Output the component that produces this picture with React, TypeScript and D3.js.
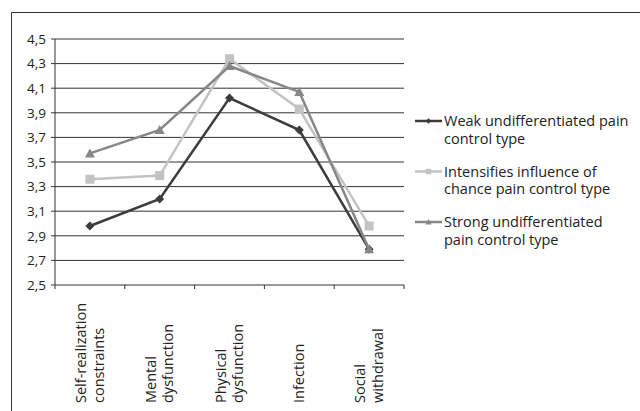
import React from "react";
import * as d3 from "d3";

const categories = [
  ["Self-realization", "constraints"],
  ["Mental", "dysfunction"],
  ["Physical", "dysfunction"],
  ["Infection"],
  ["Social", "withdrawal"],
];
const weak = [2.98, 3.2, 4.02, 3.76, 2.79];
const intensifies = [3.36, 3.39, 4.34, 3.93, 2.98];
const strong = [3.57, 3.76, 4.28, 4.07, 2.79];
const yTicks = [2.5, 2.7, 2.9, 3.1, 3.3, 3.5, 3.7, 3.9, 4.1, 4.3, 4.5];

const series = [
  { name: ["Weak undifferentiated pain", "control type"], values: weak, color: "#3c3c3c", marker: "diamond" },
  { name: ["Intensifies influence of", "chance pain control type"], values: intensifies, color: "#c3c3c3", marker: "square" },
  { name: ["Strong undifferentiated", "pain control type"], values: strong, color: "#878787", marker: "triangle" },
];

const W = 640, H = 411;
const left = 55, right = 404, top = 39, bottom = 285;
const FONT = "'Open Sans', 'Noto Sans', sans-serif";

function Marker({ type, x, y, color, scale = 1 }: any) {
  if (type === "diamond") {
    const s = 4.5 * scale;
    return <path d={`M${x},${y - s}L${x + s},${y}L${x},${y + s}L${x - s},${y}Z`} fill={color} />;
  }
  if (type === "square") {
    const s = 4.5 * scale;
    return <rect x={x - s} y={y - s} width={2 * s} height={2 * s} fill={color} />;
  }
  const s = 5 * scale;
  return <path d={`M${x},${y - s}L${x + s},${y + s * 0.8}L${x - s},${y + s * 0.8}Z`} fill={color} />;
}

export default function App() {
  const x = d3.scaleBand<number>().domain(d3.range(categories.length)).range([left, right]);
  const y = d3.scaleLinear().domain([2.5, 4.5]).range([bottom, top]);
  const line = d3
    .line<number>()
    .x((_, i) => (x(i) as number) + x.bandwidth() / 2)
    .y((v) => y(v));
  const ticksX = d3.range(categories.length + 1).map((i) => left + i * x.bandwidth());
  const legendY = [121, 171.5, 222];
  const fs = 14.5;

  return (
    <svg width={W} height={H} style={{ display: "block", position: "absolute", left: 0, top: 0 }} fontFamily={FONT}>
      <rect x={0} y={0} width={W} height={H} fill="#fff" />
      <path d={`M11.5,${H}V12.5H${W}`} fill="none" stroke="#333" strokeWidth={1} />
      {yTicks.map((t) => (
        <g key={t}>
          <line x1={left} x2={right} y1={y(t)} y2={y(t)} stroke="#333" strokeWidth={1} />
          <line x1={left - 4} x2={left} y1={y(t)} y2={y(t)} stroke="#333" />
          <text x={left - 9} y={y(t)} dy="0.35em" textAnchor="end" fontSize={13.5} fill="#222">
            {t.toFixed(1).replace(".", ",")}
          </text>
        </g>
      ))}
      <line x1={left} x2={left} y1={top} y2={bottom} stroke="#333" />
      {ticksX.map((tx, i) => (
        <line key={i} x1={tx} x2={tx} y1={bottom} y2={bottom + 4} stroke="#333" />
      ))}
      {categories.map((lines, i) => {
        const cx = (x(i) as number) + x.bandwidth() / 2;
        const n = lines.length;
        return lines.map((l, j) => {
          const lx = cx + (j - (n - 1) / 2) * 17.5 + 5;
          return (
            <text key={i + "-" + j} transform={`translate(${lx},403) rotate(-90)`} fontSize={fs} fill="#222">
              {l}
            </text>
          );
        });
      })}
      {series.map((s) => (
        <g key={s.color}>
          <path d={line(s.values) as string} fill="none" stroke={s.color} strokeWidth={2.5} />
          {s.values.map((v, i) => (
            <Marker key={i} type={s.marker} x={(x(i) as number) + x.bandwidth() / 2} y={y(v)} color={s.color} />
          ))}
        </g>
      ))}
      {series.map((s, k) => (
        <g key={"lg" + k}>
          <line x1={415} x2={442} y1={legendY[k]} y2={legendY[k]} stroke={s.color} strokeWidth={2.5} />
          <Marker type={s.marker} x={428.5} y={legendY[k]} color={s.color} scale={0.6} />
          <text x={444} y={legendY[k]} dy="0.35em" fontSize={fs} fill="#222">{s.name[0]}</text>
          <text x={444} y={legendY[k] + 17.5} dy="0.35em" fontSize={fs} fill="#222">{s.name[1]}</text>
        </g>
      ))}
    </svg>
  );
}
